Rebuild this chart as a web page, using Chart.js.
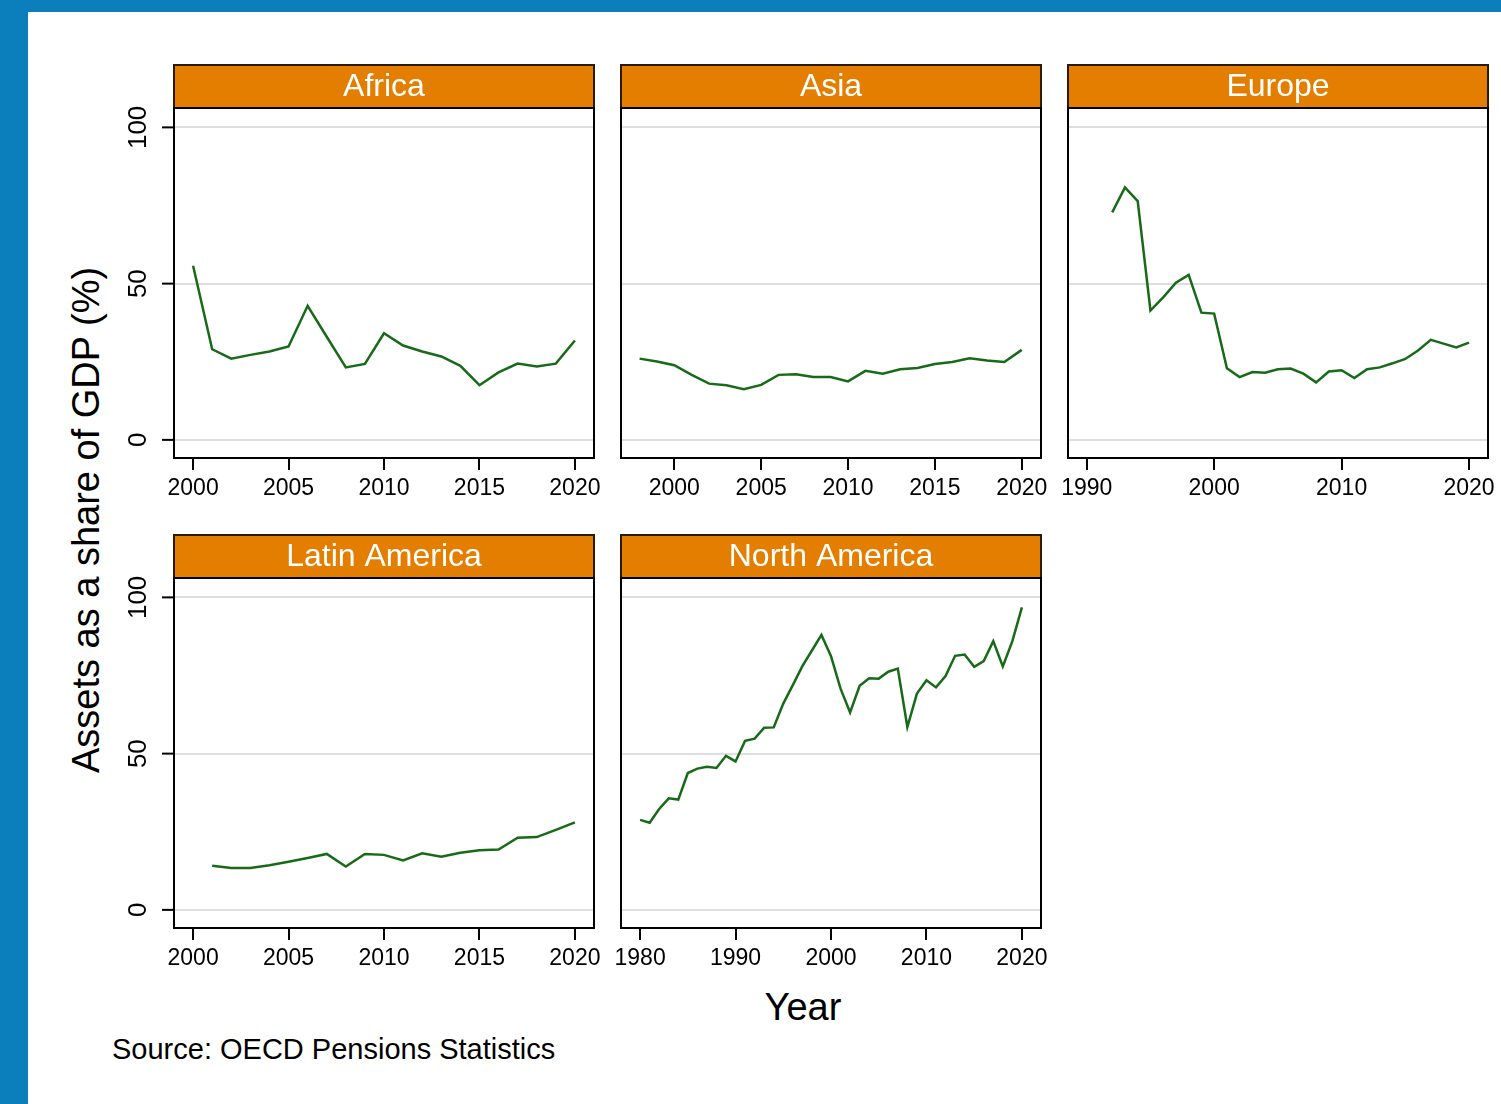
<!DOCTYPE html>
<html lang="en">
<head>
    <meta charset="UTF-8">
    <title>Pension assets as a share of GDP</title>
    <script src="https://cdn.jsdelivr.net/npm/chart.js"></script>
    <style>
        body {
            margin: 0;
            width: 1501px;
            height: 1104px;
            background: #ffffff;
            font-family: "Liberation Sans", Arial, Helvetica, sans-serif;
            position: relative;
            overflow: hidden;
        }
        .strip-top {
            position: absolute;
            left: 0; top: 0;
            width: 1501px; height: 12px;
            background: #0b7fbc;
        }
        .strip-left {
            position: absolute;
            left: 0; top: 0;
            width: 28px; height: 1104px;
            background: #0b7fbc;
        }
        canvas {
            position: absolute;
        }
        #yTitle {
            position: absolute;
            left: 86px;
            top: 520px;
            transform: translate(-50%, -50%) rotate(-90deg);
            white-space: nowrap;
            font-size: 38px;
            line-height: 38px;
            color: #000;
        }
        #xTitle {
            position: absolute;
            left: 803px;
            top: 988px;
            transform: translateX(-50%);
            font-size: 38px;
            line-height: 38px;
            color: #000;
        }
        #source {
            position: absolute;
            left: 112px;
            top: 1035px;
            font-size: 29px;
            line-height: 29px;
            color: #000;
            white-space: nowrap;
        }
    </style>
</head>
<body>
    <div class="strip-top"></div>
    <div class="strip-left"></div>
    <div id="yTitle">Assets as a share of GDP (%)</div>
    <div id="xTitle">Year</div>
    <div id="source">Source: OECD Pensions Statistics</div>

<script>
// values (% of GDP)
const africaYears = [2000, 2001, 2002, 2003, 2004, 2005, 2006, 2007, 2008, 2009, 2010,
    2011, 2012, 2013, 2014, 2015, 2016, 2017, 2018, 2019, 2020];
const africaValues = [55.7, 29.0, 26.0, 27.2, 28.3, 29.9, 42.9, 33.0, 23.2, 24.3, 34.1,
    30.2, 28.3, 26.7, 23.7, 17.5, 21.6, 24.4, 23.5, 24.4, 31.8];

const asiaYears = [1998, 1999, 2000, 2001, 2002, 2003, 2004, 2005, 2006, 2007, 2008, 2009,
    2010, 2011, 2012, 2013, 2014, 2015, 2016, 2017, 2018, 2019, 2020];
const asiaValues = [26.0, 25.1, 23.9, 20.8, 18.0, 17.5, 16.2, 17.6, 20.8, 21.0, 20.1, 20.1,
    18.7, 22.1, 21.2, 22.6, 23.0, 24.3, 24.9, 26.1, 25.4, 24.9, 28.8];

const europeYears = [1992, 1993, 1994, 1995, 1996, 1997, 1998, 1999, 2000, 2001, 2002,
    2003, 2004, 2005, 2006, 2007, 2008, 2009, 2010, 2011, 2012, 2013, 2014, 2015, 2016,
    2017, 2018, 2019, 2020];
const europeValues = [72.8, 80.8, 76.4, 41.4, 45.6, 50.3, 52.8, 40.7, 40.4, 22.9, 20.1,
    21.7, 21.5, 22.6, 22.8, 21.2, 18.4, 21.9, 22.3, 19.8, 22.6, 23.2, 24.5, 25.9, 28.6,
    32.0, 30.8, 29.6, 31.1];

const latamYears = [2001, 2002, 2003, 2004, 2005, 2006, 2007, 2008, 2009, 2010, 2011,
    2012, 2013, 2014, 2015, 2016, 2017, 2018, 2019, 2020];
const latamValues = [14.1, 13.4, 13.4, 14.3, 15.4, 16.6, 17.9, 13.9, 17.9, 17.6, 15.8,
    18.1, 17.0, 18.3, 19.1, 19.3, 23.1, 23.3, 25.6, 28.0];

const namericaYears = [1980, 1981, 1982, 1983, 1984, 1985, 1986, 1987, 1988, 1989, 1990,
    1991, 1992, 1993, 1994, 1995, 1996, 1997, 1998, 1999, 2000, 2001, 2002, 2003, 2004,
    2005, 2006, 2007, 2008, 2009, 2010, 2011, 2012, 2013, 2014, 2015, 2016, 2017, 2018,
    2019, 2020];
const namericaValues = [28.8, 27.9, 32.3, 35.7, 35.3, 43.8, 45.2, 45.8, 45.4, 49.3, 47.5,
    54.1, 54.8, 58.3, 58.4, 66.0, 71.9, 78.0, 83.0, 88.0, 81.2, 70.8, 63.2, 71.7, 74.1,
    74.0, 76.2, 77.2, 58.5, 69.2, 73.5, 71.2, 74.8, 81.3, 81.7, 77.8, 79.6, 86.0, 77.9,
    86.0, 96.8];

const yTicks = [0, 50, 100];
const xTicks5 = [2000, 2005, 2010, 2015, 2020];
const xTicksEurope = [1990, 2000, 2010, 2020];
const xTicksNorthAmerica = [1980, 1990, 2000, 2010, 2020];

const FONT = '"Liberation Sans", Arial, Helvetica, sans-serif';
const HEADER_H = 44;
const PAD_L = 60, PAD_R = 20, X_AXIS_H = 50;
const PLOT_W = 420, PLOT_H = 350;

const panels = [
    { title: 'Africa', years: africaYears, values: africaValues, ticks: xTicks5,
      xMin: 1999, xMax: 2021, left: 174, top: 108, yLabels: true },
    { title: 'Asia', years: asiaYears, values: asiaValues, ticks: xTicks5,
      xMin: 1996.93, xMax: 2021.11, left: 621, top: 108, yLabels: false },
    { title: 'Europe', years: europeYears, values: europeValues, ticks: xTicksEurope,
      xMin: 1988.53, xMax: 2021.49, left: 1068, top: 108, yLabels: false },
    { title: 'Latin America', years: latamYears, values: latamValues, ticks: xTicks5,
      xMin: 1999, xMax: 2021, left: 174, top: 578, yLabels: true },
    { title: 'North America', years: namericaYears, values: namericaValues, ticks: xTicksNorthAmerica,
      xMin: 1978, xMax: 2022, left: 621, top: 578, yLabels: false }
];

// frame, orange title strip and (left column only) rotated y labels
const panelDeco = {
    id: 'panelDeco',
    afterDraw(chart, args, opts) {
        const ctx = chart.ctx;
        const a = chart.chartArea;
        ctx.save();

        // header strip
        ctx.fillStyle = '#e37e00';
        ctx.fillRect(a.left, a.top - HEADER_H, a.right - a.left, HEADER_H);
        ctx.strokeStyle = '#2a1a00';
        ctx.lineWidth = 2;
        ctx.strokeRect(a.left, a.top - HEADER_H + 1, a.right - a.left, HEADER_H - 1);
        ctx.fillStyle = '#ffffff';
        ctx.font = '32px ' + FONT;
        ctx.textAlign = 'center';
        ctx.textBaseline = 'middle';
        ctx.fillText(opts.title, (a.left + a.right) / 2, a.top - HEADER_H / 2 + 1);

        // plot frame
        ctx.strokeStyle = '#000000';
        ctx.lineWidth = 2;
        ctx.strokeRect(a.left, a.top, a.right - a.left, a.bottom - a.top);

        if (opts.yLabels) {
            const y = chart.scales.y;
            ctx.font = '26px ' + FONT;
            ctx.fillStyle = '#000000';
            yTicks.forEach(v => {
                const py = y.getPixelForValue(v);
                ctx.beginPath();
                ctx.moveTo(a.left - 12, py);
                ctx.lineTo(a.left, py);
                ctx.stroke();
                ctx.save();
                ctx.translate(a.left - 35, py);
                ctx.rotate(-Math.PI / 2);
                ctx.textAlign = 'center';
                ctx.textBaseline = 'middle';
                ctx.fillText(String(v), 0, 0);
                ctx.restore();
            });
        }
        ctx.restore();
    }
};

panels.forEach(p => {
    const canvas = document.createElement('canvas');
    canvas.width = PAD_L + PLOT_W + PAD_R;
    canvas.height = HEADER_H + PLOT_H + X_AXIS_H;
    canvas.style.left = (p.left - PAD_L) + 'px';
    canvas.style.top = (p.top - HEADER_H) + 'px';
    document.body.appendChild(canvas);

    new Chart(canvas, {
        type: 'line',
        data: {
            datasets: [{
                data: p.years.map((yr, i) => ({ x: yr, y: p.values[i] })),
                borderColor: '#176a17',
                borderWidth: 2.5,
                pointRadius: 0,
                tension: 0,
                fill: false
            }]
        },
        options: {
            responsive: false,
            animation: false,
            devicePixelRatio: 1,
            layout: { padding: { left: PAD_L, right: PAD_R, top: HEADER_H, bottom: 0 } },
            plugins: {
                legend: { display: false },
                tooltip: { enabled: false },
                panelDeco: { title: p.title, yLabels: p.yLabels }
            },
            scales: {
                x: {
                    type: 'linear',
                    min: p.xMin,
                    max: p.xMax,
                    afterBuildTicks: s => { s.ticks = p.ticks.map(v => ({ value: v })); },
                    afterFit: s => { s.height = X_AXIS_H; },
                    border: { display: false },
                    grid: {
                        drawOnChartArea: false,
                        drawTicks: true,
                        tickLength: 12,
                        color: '#000000',
                        lineWidth: 2
                    },
                    ticks: {
                        color: '#000000',
                        font: { family: FONT, size: 23 },
                        padding: 5,
                        maxRotation: 0,
                        autoSkip: false,
                        callback: v => String(v)
                    }
                },
                y: {
                    type: 'linear',
                    min: -5.8,
                    max: 106.2,
                    afterBuildTicks: s => { s.ticks = yTicks.map(v => ({ value: v })); },
                    afterFit: s => { s.width = 0; },
                    border: { display: false },
                    grid: {
                        color: '#dedede',
                        lineWidth: 2,
                        drawTicks: false
                    },
                    ticks: { display: false }
                }
            }
        },
        plugins: [panelDeco]
    });
});
</script>
</body>
</html>
